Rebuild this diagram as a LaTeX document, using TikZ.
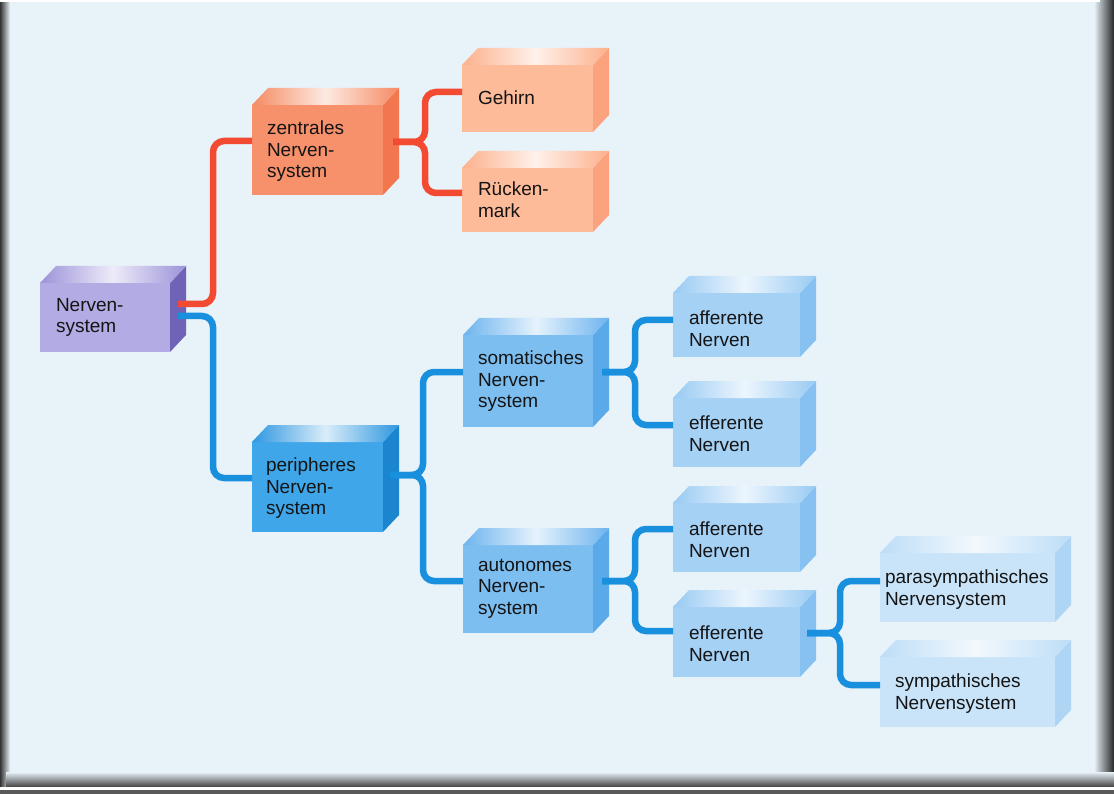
\documentclass[tikz,border=0pt]{standalone}
\usepackage{fontspec}
\setmainfont{Liberation Sans}
\usetikzlibrary{calc}
\definecolor{bg}{HTML}{E8F2F9}
\definecolor{nvF}{HTML}{B3ABE3}
\definecolor{nvS}{HTML}{6F63B8}
\definecolor{nvT}{HTML}{9C92D9}
\definecolor{zF}{HTML}{F7916B}
\definecolor{zS}{HTML}{F2774E}
\definecolor{zT}{HTML}{F58A62}
\definecolor{gF}{HTML}{FEBB9A}
\definecolor{gS}{HTML}{FBA27E}
\definecolor{gT}{HTML}{FCB08C}
\definecolor{pF}{HTML}{3FA6EA}
\definecolor{pS}{HTML}{1B85CF}
\definecolor{pT}{HTML}{2E97E0}
\definecolor{sF}{HTML}{7DBEF1}
\definecolor{sS}{HTML}{5AA9E8}
\definecolor{sT}{HTML}{6DB4EE}
\definecolor{aF}{HTML}{A5D1F5}
\definecolor{aS}{HTML}{87C1F1}
\definecolor{aT}{HTML}{98CAF3}
\definecolor{yF}{HTML}{C9E4F9}
\definecolor{yS}{HTML}{AFD5F5}
\definecolor{yT}{HTML}{BCDDF7}
\definecolor{redline}{HTML}{F24B32}
\definecolor{blueline}{HTML}{1990DE}
\tikzset{
  cubeface/.style={rectangle, draw=none, inner sep=0pt, outer sep=0pt},
  lbl/.style={anchor=north west, align=left, inner sep=0pt, outer sep=0pt,
    font=\fontsize{19}{21.5}\selectfont, text=black!92},
  conn/.style={line width=6.5pt, rounded corners=11pt},
  redconn/.style={conn, draw=redline},
  blueconn/.style={conn, draw=blueline}
}
\newcommand\cubebox[8]{%
  \node[cubeface, fill=#6, minimum width={(#4-#2)*1pt}, minimum height={(#5-#3)*1pt}] (#1) at ({(#2+#4)/2},{(#3+#5)/2}) {};
  \fill[#7] (#1.north east) -- ++(16,-17) -- ++(0,{#5-#3}) -- (#1.south east) -- cycle;
  \shade[left color=#8, right color=#8, middle color=white!82!#8] (#1.north west) -- ++(16,-17) -- ++({#4-#2},0) -- (#1.north east) -- cycle;
}
\begin{document}
\begin{tikzpicture}[x=1pt,y=-1pt]
\useasboundingbox (0,0) rectangle (1114,794);
% background and frame
\fill[bg] (0,0) rectangle (1114,794);
\shade[left color=black!80, right color=bg] (0,0) rectangle (10,794);
\shade[left color=bg, right color=black!85] (1094,0) rectangle (1114,794);
\fill[white] (0,0) rectangle (1100,2);
\shade[top color=bg, bottom color=black!75] (6,772) rectangle (1114,787);
\fill[white] (0,787) rectangle (1114,789.5);
\fill[black!65] (0,789.5) rectangle (1114,794);
% boxes
\cubebox{nerv}{40}{283}{170}{352}{nvF}{nvS}{nvT}
\cubebox{zent}{252}{105}{383}{195}{zF}{zS}{zT}
\cubebox{geh}{462}{65}{593}{132}{gF}{gS}{gT}
\cubebox{rueck}{462}{168}{593}{232}{gF}{gS}{gT}
\cubebox{peri}{252}{442}{383}{532}{pF}{pS}{pT}
\cubebox{soma}{463}{335}{593}{427}{sF}{sS}{sT}
\cubebox{auto}{463}{545}{593}{633}{sF}{sS}{sT}
\cubebox{affa}{673}{293}{800}{357}{aF}{aS}{aT}
\cubebox{effa}{673}{398}{800}{467}{aF}{aS}{aT}
\cubebox{affb}{673}{503}{800}{572}{aF}{aS}{aT}
\cubebox{effb}{673}{607}{800}{677}{aF}{aS}{aT}
\cubebox{para}{880}{553}{1055}{622}{yF}{yS}{yT}
\cubebox{symp}{880}{657}{1055}{727}{yF}{yS}{yT}
% labels
\node[lbl] (nerv-t) at (56,298) {Nerven-\\system};
\node[lbl] (zent-t) at (267,121) {zentrales\\Nerven-\\system};
\node[lbl] (geh-t) at (478,91) {Gehirn};
\node[lbl] (rueck-t) at (478,182) {Rücken-\\mark};
\node[lbl] (peri-t) at (266,458) {peripheres\\Nerven-\\system};
\node[lbl] (soma-t) at (478,351) {somatisches\\Nerven-\\system};
\node[lbl] (auto-t) at (478,559) {autonomes\\Nerven-\\system};
\node[lbl] (affa-t) at (689,311) {afferente\\Nerven};
\node[lbl] (effa-t) at (689,416) {efferente\\Nerven};
\node[lbl] (affb-t) at (689,522) {afferente\\Nerven};
\node[lbl] (effb-t) at (689,626) {efferente\\Nerven};
\node[lbl] (para-t) at (885,570) {parasympathisches\\Nervensystem};
\node[lbl] (symp-t) at (895,674) {sympathisches\\Nervensystem};
% connectors
\draw[redconn] ($(nerv.north east)+(8,21)$) -- (213,304) -- (213,141) -- ($(zent.north west)+(0,36)$);
\draw[redconn] ($(zent.north east)+(10,37)$) -- (425,142) -- (425,92) -- ($(geh.north west)+(0,27)$);
\draw[redconn] ($(zent.north east)+(10,37)$) -- (425,142) -- (425,193) -- ($(rueck.north west)+(0,25)$);
\draw[blueconn] ($(nerv.north east)+(8,33)$) -- (213,316) -- (213,478) -- ($(peri.north west)+(0,36)$);
\draw[blueconn] ($(peri.north east)+(7,33)$) -- (423,475) -- (423,372) -- ($(soma.north west)+(0,37)$);
\draw[blueconn] ($(peri.north east)+(7,33)$) -- (423,475) -- (423,581) -- ($(auto.north west)+(0,36)$);
\draw[blueconn] ($(soma.north east)+(9,37)$) -- (635,372) -- (635,320) -- ($(affa.north west)+(0,27)$);
\draw[blueconn] ($(soma.north east)+(9,37)$) -- (635,372) -- (635,425) -- ($(effa.north west)+(0,27)$);
\draw[blueconn] ($(auto.north east)+(9,36)$) -- (635,581) -- (635,529) -- ($(affb.north west)+(0,26)$);
\draw[blueconn] ($(auto.north east)+(9,36)$) -- (635,581) -- (635,631) -- ($(effb.north west)+(0,24)$);
\draw[blueconn] ($(effb.north east)+(7,26)$) -- (840,633) -- (840,581) -- ($(para.north west)+(0,28)$);
\draw[blueconn] ($(effb.north east)+(7,26)$) -- (840,633) -- (840,685) -- ($(symp.north west)+(0,28)$);
\end{tikzpicture}
\end{document}
